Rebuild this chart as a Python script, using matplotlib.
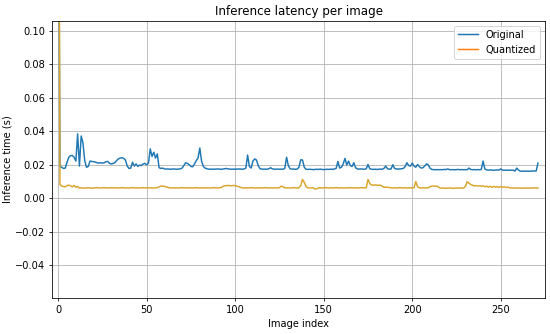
import matplotlib
matplotlib.use("Agg")
import matplotlib.pyplot as plt
from matplotlib.lines import Line2D

# per-image latency in seconds (index 0 is the warm-up run)
original = [
    0.2500, 0.0190, 0.0185, 0.0178, 0.0180, 0.0215, 0.0245, 0.0255, 0.0255, 0.0245,
    0.0222, 0.0385, 0.0192, 0.0372, 0.0330, 0.0225, 0.0185, 0.0190, 0.0222, 0.0220,
    0.0218, 0.0216, 0.0212, 0.0210, 0.0212, 0.0210, 0.0212, 0.0218, 0.0220, 0.0208,
    0.0205, 0.0208, 0.0212, 0.0225, 0.0235, 0.0240, 0.0242, 0.0238, 0.0228, 0.0192,
    0.0178, 0.0180, 0.0215, 0.0192, 0.0205, 0.0190, 0.0198, 0.0195, 0.0205, 0.0208,
    0.0200, 0.0210, 0.0295, 0.0250, 0.0275, 0.0240, 0.0265, 0.0182, 0.0178, 0.0180,
    0.0175, 0.0174, 0.0175, 0.0173, 0.0174, 0.0175, 0.0174, 0.0173, 0.0174, 0.0176,
    0.0180, 0.0195, 0.0212, 0.0208, 0.0200, 0.0190, 0.0188, 0.0205, 0.0225, 0.0240,
    0.0300, 0.0220, 0.0190, 0.0180, 0.0176, 0.0174, 0.0173, 0.0174, 0.0173, 0.0174,
    0.0175, 0.0174, 0.0173, 0.0174, 0.0176, 0.0178, 0.0175, 0.0174, 0.0173, 0.0174,
    0.0173, 0.0174, 0.0175, 0.0174, 0.0173, 0.0175, 0.0180, 0.0258, 0.0190, 0.0180,
    0.0222, 0.0235, 0.0228, 0.0195, 0.0176, 0.0174, 0.0173, 0.0174, 0.0173, 0.0176,
    0.0182, 0.0175, 0.0174, 0.0173, 0.0174, 0.0173, 0.0174, 0.0173, 0.0178, 0.0245,
    0.0195, 0.0176, 0.0174, 0.0174, 0.0173, 0.0174, 0.0185, 0.0230, 0.0228, 0.0185,
    0.0173, 0.0172, 0.0173, 0.0172, 0.0171, 0.0172, 0.0173, 0.0172, 0.0174, 0.0172,
    0.0171, 0.0172, 0.0173, 0.0172, 0.0174, 0.0172, 0.0175, 0.0178, 0.0220, 0.0180,
    0.0185, 0.0205, 0.0238, 0.0198, 0.0222, 0.0195, 0.0190, 0.0212, 0.0182, 0.0175,
    0.0174, 0.0175, 0.0174, 0.0173, 0.0176, 0.0202, 0.0176, 0.0173, 0.0172, 0.0173,
    0.0172, 0.0173, 0.0174, 0.0173, 0.0178, 0.0192, 0.0176, 0.0174, 0.0174, 0.0200,
    0.0178, 0.0175, 0.0174, 0.0175, 0.0176, 0.0178, 0.0190, 0.0212, 0.0195, 0.0192,
    0.0210, 0.0192, 0.0185, 0.0202, 0.0188, 0.0180, 0.0182, 0.0192, 0.0205, 0.0200,
    0.0180, 0.0172, 0.0171, 0.0170, 0.0171, 0.0170, 0.0171, 0.0170, 0.0172, 0.0171,
    0.0175, 0.0171, 0.0170, 0.0171, 0.0170, 0.0171, 0.0172, 0.0170, 0.0171, 0.0170,
    0.0171, 0.0170, 0.0180, 0.0172, 0.0170, 0.0171, 0.0170, 0.0171, 0.0170, 0.0172,
    0.0222, 0.0175, 0.0169, 0.0168, 0.0169, 0.0168, 0.0167, 0.0168, 0.0169, 0.0168,
    0.0175, 0.0168, 0.0167, 0.0168, 0.0167, 0.0168, 0.0167, 0.0168, 0.0162, 0.0180,
    0.0168, 0.0162, 0.0161, 0.0162, 0.0161, 0.0162, 0.0161, 0.0162, 0.0163, 0.0162,
    0.0163, 0.0210,
]

quantized = [
    0.3500, 0.0082, 0.0072, 0.0070, 0.0068, 0.0075, 0.0078, 0.0074, 0.0068, 0.0076,
    0.0066, 0.0070, 0.0060, 0.0062, 0.0061, 0.0060, 0.0061, 0.0062, 0.0061, 0.0060,
    0.0061, 0.0062, 0.0063, 0.0062, 0.0061, 0.0062, 0.0063, 0.0061, 0.0062, 0.0061,
    0.0063, 0.0062, 0.0061, 0.0062, 0.0061, 0.0062, 0.0063, 0.0062, 0.0061, 0.0062,
    0.0061, 0.0062, 0.0063, 0.0062, 0.0061, 0.0062, 0.0061, 0.0062, 0.0063, 0.0062,
    0.0061, 0.0062, 0.0061, 0.0062, 0.0061, 0.0062, 0.0063, 0.0068, 0.0072, 0.0072,
    0.0070, 0.0068, 0.0064, 0.0062, 0.0061, 0.0062, 0.0061, 0.0062, 0.0061, 0.0062,
    0.0063, 0.0062, 0.0061, 0.0062, 0.0061, 0.0062, 0.0061, 0.0062, 0.0063, 0.0062,
    0.0061, 0.0062, 0.0061, 0.0062, 0.0061, 0.0062, 0.0061, 0.0062, 0.0063, 0.0062,
    0.0061, 0.0062, 0.0063, 0.0070, 0.0074, 0.0075, 0.0076, 0.0075, 0.0074, 0.0076,
    0.0075, 0.0072, 0.0068, 0.0065, 0.0062, 0.0061, 0.0062, 0.0061, 0.0062, 0.0063,
    0.0062, 0.0061, 0.0062, 0.0061, 0.0062, 0.0061, 0.0062, 0.0063, 0.0062, 0.0061,
    0.0062, 0.0061, 0.0062, 0.0061, 0.0062, 0.0063, 0.0072, 0.0068, 0.0062, 0.0061,
    0.0062, 0.0061, 0.0062, 0.0063, 0.0062, 0.0061, 0.0062, 0.0075, 0.0112, 0.0095,
    0.0070, 0.0062, 0.0061, 0.0062, 0.0062, 0.0055, 0.0056, 0.0061, 0.0062, 0.0061,
    0.0062, 0.0063, 0.0062, 0.0061, 0.0062, 0.0061, 0.0062, 0.0063, 0.0062, 0.0061,
    0.0062, 0.0061, 0.0062, 0.0061, 0.0062, 0.0063, 0.0062, 0.0061, 0.0062, 0.0061,
    0.0062, 0.0063, 0.0062, 0.0061, 0.0062, 0.0112, 0.0088, 0.0078, 0.0078, 0.0079,
    0.0078, 0.0077, 0.0078, 0.0072, 0.0065, 0.0066, 0.0065, 0.0064, 0.0062, 0.0061,
    0.0062, 0.0061, 0.0062, 0.0063, 0.0062, 0.0061, 0.0062, 0.0061, 0.0062, 0.0061,
    0.0062, 0.0062, 0.0100, 0.0068, 0.0062, 0.0061, 0.0062, 0.0061, 0.0062, 0.0062,
    0.0068, 0.0072, 0.0073, 0.0072, 0.0072, 0.0065, 0.0060, 0.0061, 0.0060, 0.0059,
    0.0060, 0.0061, 0.0060, 0.0059, 0.0060, 0.0061, 0.0060, 0.0060, 0.0061, 0.0060,
    0.0070, 0.0098, 0.0090, 0.0082, 0.0078, 0.0074, 0.0075, 0.0073, 0.0074, 0.0072,
    0.0074, 0.0068, 0.0072, 0.0066, 0.0071, 0.0065, 0.0070, 0.0066, 0.0069, 0.0064,
    0.0070, 0.0065, 0.0068, 0.0064, 0.0066, 0.0062, 0.0061, 0.0060, 0.0061, 0.0060,
    0.0061, 0.0060, 0.0060, 0.0061, 0.0060, 0.0061, 0.0060, 0.0061, 0.0060, 0.0062,
    0.0061, 0.0060,
]

series_names = ["Original", "Quantized"]
legend_colors = ["#1f77b4", "#ff7f0e"]
line_colors = ["#1f77b4", "#d9a52b"]

fig = plt.figure(figsize=(550 / 71, 334 / 71), dpi=71)
ax = fig.add_axes([0.0945, 0.108, 0.8965, 0.829])

ax.plot(range(len(original)), original, color=line_colors[0], lw=1.5)
ax.plot(range(len(quantized)), quantized, color=line_colors[1], lw=1.5)

ax.set_xlim(-3.5, 275)
ax.set_ylim(-0.0597, 0.106)
ax.grid(True)
ax.set_title("Inference latency per image")
ax.set_xlabel("Image index")
ax.set_ylabel("Inference time (s)")
# keep the y label against the left edge, but fully inside the figure
ax.yaxis.set_label_coords(-0.080, 0.5)

handles = [Line2D([], [], color=c, lw=1.5) for c in legend_colors]
ax.legend(handles, series_names, loc="upper right")

fig.savefig("out.png", dpi=71)
